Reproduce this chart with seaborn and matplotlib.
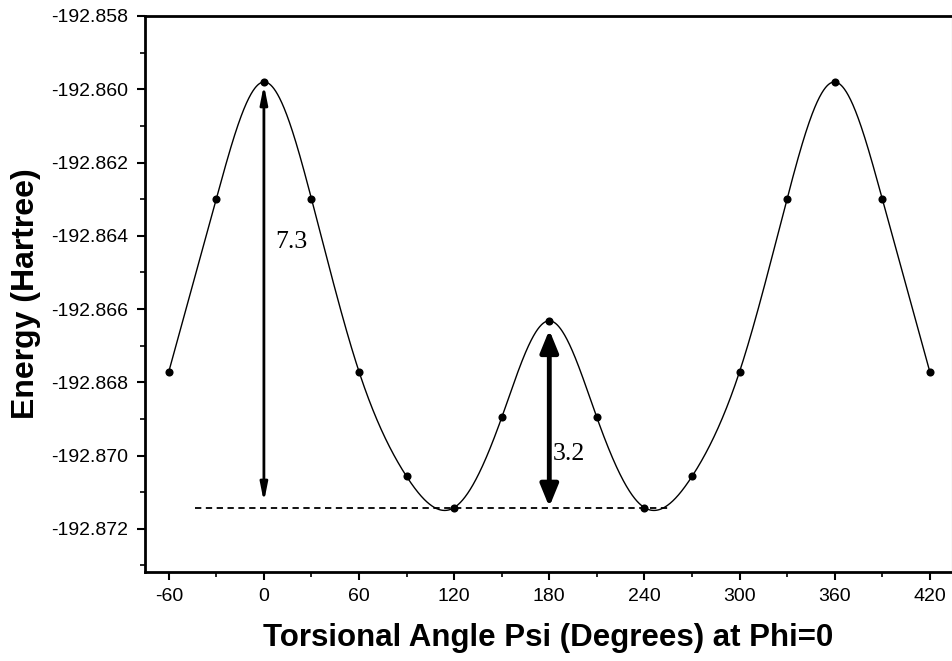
import numpy as np
import matplotlib
matplotlib.use("Agg")
import matplotlib.pyplot as plt
import seaborn as sns
import pandas as pd
from matplotlib.ticker import MultipleLocator, FormatStrFormatter

# Data
psi = [-60, -30, 0, 30, 60, 90, 120, 150, 180, 210, 240, 270, 300, 330, 360, 390, 420]
energy = [-192.86771, -192.86299, -192.85980, -192.86299, -192.86771, -192.87057,
          -192.87142, -192.86896, -192.86632, -192.86896, -192.87142, -192.87057,
          -192.86771, -192.86299, -192.85980, -192.86299, -192.86771]
barrier_labels = ["7.3", "3.2"]
barrier_x = [0, 180]
baseline_x = [-43.5, 256]

sns.set_theme(style="ticks")
plt.rcParams['font.family'] = ['Liberation Sans', 'DejaVu Sans']
plt.rcParams['axes.unicode_minus'] = False
plt.rcParams['text.color'] = 'black'
plt.rcParams['axes.labelcolor'] = 'black'
plt.rcParams['xtick.color'] = 'black'
plt.rcParams['ytick.color'] = 'black'
plt.rcParams['xtick.labelcolor'] = 'black'
plt.rcParams['ytick.labelcolor'] = 'black'

def natural_spline(x, y, n=2000):
    x = np.asarray(x, float); y = np.asarray(y, float)
    m = len(x); h = np.diff(x)
    A = np.zeros((m, m)); b = np.zeros(m)
    A[0, 0] = 1; A[-1, -1] = 1
    for i in range(1, m - 1):
        A[i, i - 1] = h[i - 1]; A[i, i] = 2 * (h[i - 1] + h[i]); A[i, i + 1] = h[i]
        b[i] = 3 * ((y[i + 1] - y[i]) / h[i] - (y[i] - y[i - 1]) / h[i - 1])
    c = np.linalg.solve(A, b)
    xs = np.linspace(x[0], x[-1], n)
    idx = np.clip(np.searchsorted(x, xs) - 1, 0, m - 2)
    dx = xs - x[idx]
    bb = (y[idx + 1] - y[idx]) / h[idx] - h[idx] * (2 * c[idx] + c[idx + 1]) / 3
    d = (c[idx + 1] - c[idx]) / (3 * h[idx])
    ys = y[idx] + bb * dx + c[idx] * dx ** 2 + d * dx ** 3
    return xs, ys

fig = plt.figure(figsize=(9.53, 6.61), dpi=100)
ax = fig.add_axes([145 / 953, 1 - 571.7 / 661, (952 - 145) / 953, (571.7 - 16) / 661])

xs, ys = natural_spline(psi, energy)
sns.lineplot(x=xs, y=ys, ax=ax, color="black", linewidth=1.0, estimator=None, sort=False)
df = pd.DataFrame({"psi": psi, "energy": energy})
sns.scatterplot(data=df, x="psi", y="energy", ax=ax, color="black", s=34, edgecolor="black", linewidth=0, zorder=5)

emin = min(energy)
ax.plot(baseline_x, [emin, emin], color="black", linestyle=(0, (3.5, 2.5)), linewidth=1.3)

# barrier arrows
top0 = energy[psi.index(0)]
top180 = energy[psi.index(180)]
ax.annotate("", xy=(0, top0 - 0.00008), xytext=(0, emin + 0.00015),
            arrowprops=dict(arrowstyle="<|-|>,head_length=0.9,head_width=0.18", color="black", lw=2.0,
                            shrinkA=0, shrinkB=0))
ax.annotate("", xy=(180, top180 - 0.00025), xytext=(180, emin + 0.00002),
            arrowprops=dict(arrowstyle="<|-|>,head_length=1.1,head_width=0.45", color="black", lw=3.5,
                            shrinkA=0, shrinkB=0))
ax.text(7, -192.86418, barrier_labels[0], family=['Liberation Serif'], fontsize=18.5, va="center", ha="left", color="black")
ax.text(182, -192.86995, barrier_labels[1], family=['Liberation Serif'], fontsize=18.5, va="center", ha="left", color="black")

ax.set_xlim(-75, 434)
ax.set_ylim(-192.87317, -192.858)
ax.xaxis.set_major_locator(MultipleLocator(60))
ax.xaxis.set_minor_locator(MultipleLocator(30))
ax.yaxis.set_major_locator(MultipleLocator(0.002))
ax.yaxis.set_minor_locator(MultipleLocator(0.001))
ax.yaxis.set_major_formatter(FormatStrFormatter("%.3f"))
ax.tick_params(axis="both", which="major", length=6, width=1.5, labelsize=14, direction="out",
               color="black", labelcolor="black", pad=6)
ax.tick_params(axis="both", which="minor", length=3.5, width=1.2, direction="out", color="black")

for s in ["left", "bottom", "top"]:
    ax.spines[s].set_visible(True)
    ax.spines[s].set_color("black")
    ax.spines[s].set_linewidth(2.0)
ax.spines["right"].set_visible(True)
ax.spines["right"].set_color("#dddddd")
ax.spines["right"].set_linewidth(1.0)

ax.set_xlabel("Torsional Angle Psi (Degrees) at Phi=0", fontsize=22.5, fontweight="bold", labelpad=13, color="black")
ax.set_ylabel("Energy (Hartree)", fontsize=23, fontweight="bold", labelpad=7, color="black")

fig.savefig("out.png", dpi=100)
